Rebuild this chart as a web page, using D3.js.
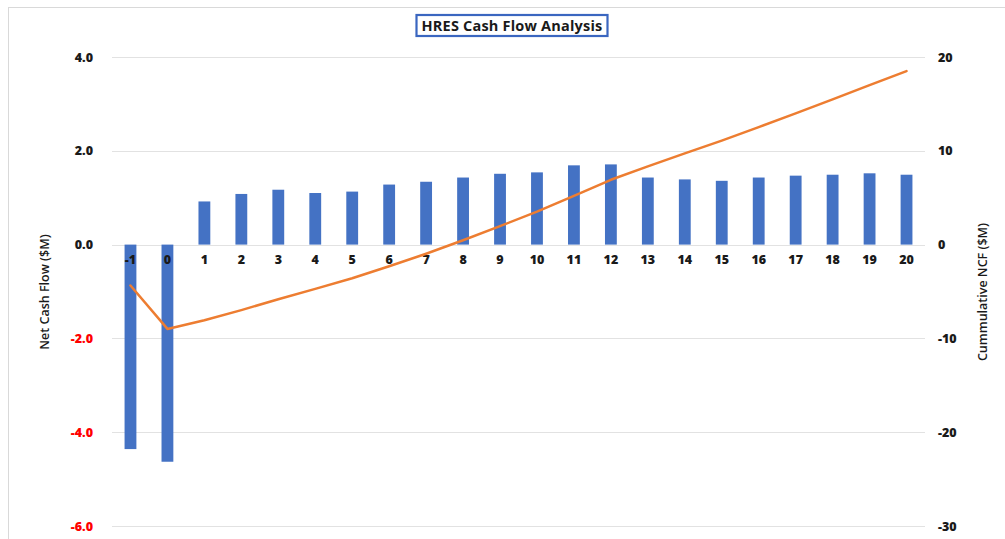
<!DOCTYPE html>
<html>
<head>
<meta charset="utf-8">
<script src="https://cdn.jsdelivr.net/npm/d3@7"></script>
<style>
  html, body { margin: 0; padding: 0; background: #ffffff; }
  svg { display: block; }
  text { font-family: "Open Sans", "Noto Sans", sans-serif; }
</style>
</head>
<body>
<svg id="chart" width="1005" height="539"></svg>
<script>
// Project years (-1 = construction, 0 = commissioning)
const years = ["-1", "0", "1", "2", "3", "4", "5", "6", "7", "8", "9", "10",
               "11", "12", "13", "14", "15", "16", "17", "18", "19", "20"];

// Annual net cash flow, $M
const netCashFlow = [-4.36, -4.63, 0.92, 1.08, 1.17, 1.10, 1.13, 1.28, 1.34, 1.43, 1.51,
                     1.54, 1.69, 1.71, 1.43, 1.39, 1.36, 1.43, 1.47, 1.49, 1.52, 1.49];

// Cumulative net cash flow, $M
const cumulativeNCF = [-4.36, -8.99, -8.07, -6.99, -5.82, -4.72, -3.59, -2.31, -0.97, 0.46, 1.97,
                       3.51, 5.20, 6.91, 8.34, 9.73, 11.09, 12.52, 13.99, 15.48, 17.00, 18.49];

// Axis ticks
const leftTicks = [4, 2, 0, -2, -4, -6];
const rightTicks = [20, 10, 0, -10, -20, -30];

const svg = d3.select("#chart");

// Outer chart frame
svg.append("rect")
  .attr("x", 8.5).attr("y", 7.5)
  .attr("width", 1100).attr("height", 700)
  .attr("fill", "none")
  .attr("stroke", "#d9d9d9")
  .attr("stroke-width", 1);

const plot = { left: 112, right: 925, top: 57, bottom: 526 };

const x = d3.scaleBand()
  .domain(years)
  .range([plot.left, plot.right])
  .paddingInner(0.68)
  .paddingOuter(0.34);

const yL = d3.scaleLinear().domain([-6, 4]).range([plot.bottom, plot.top]);
const yR = d3.scaleLinear().domain([-30, 20]).range([plot.bottom, plot.top]);

// Horizontal gridlines
svg.append("g")
  .selectAll("line")
  .data(leftTicks)
  .join("line")
  .attr("x1", plot.left).attr("x2", plot.right)
  .attr("y1", d => Math.round(yL(d)) + 0.5)
  .attr("y2", d => Math.round(yL(d)) + 0.5)
  .attr("stroke", "#e2e2e2")
  .attr("stroke-width", 1.2);

// Left axis (net cash flow), plain hyphen for negatives
const leftAxis = svg.append("g")
  .attr("transform", `translate(${plot.left - 19},0)`)
  .call(d3.axisLeft(yL).tickValues(leftTicks).tickFormat(d => d.toFixed(1)).tickSize(0).tickPadding(0));
leftAxis.select(".domain").remove();
leftAxis.selectAll("text")
  .attr("font-size", 12.5)
  .attr("font-weight", 800)
  .attr("fill", d => d < 0 ? "#ff0000" : "#1a1a1a");

// Right axis (cumulative)
const rightAxis = svg.append("g")
  .attr("transform", `translate(${plot.right + 13},0)`)
  .call(d3.axisRight(yR).tickValues(rightTicks).tickFormat(d => String(d)).tickSize(0).tickPadding(0));
rightAxis.select(".domain").remove();
rightAxis.selectAll("text")
  .attr("font-size", 12.5)
  .attr("font-weight", 800)
  .attr("fill", "#1a1a1a");

// Net cash flow bars
svg.append("g")
  .selectAll("rect")
  .data(years.map((yr, i) => ({ yr, v: netCashFlow[i] })))
  .join("rect")
  .attr("x", d => x(d.yr))
  .attr("width", x.bandwidth())
  .attr("y", d => yL(Math.max(0, d.v)))
  .attr("height", d => Math.abs(yL(d.v) - yL(0)))
  .attr("fill", "#4472c4");

// Category labels sit just under the zero line
const xAxis = svg.append("g")
  .attr("transform", `translate(0,${yL(0)})`)
  .call(d3.axisBottom(x).tickSize(0).tickPadding(11));
xAxis.select(".domain").remove();
xAxis.selectAll("text")
  .attr("font-size", 12.5)
  .attr("font-weight", 800)
  .attr("fill", "#1a1a1a");

// Cumulative NCF line
const line = d3.line()
  .x((d, i) => x(years[i]) + x.bandwidth() / 2)
  .y(d => yR(d));

svg.append("path")
  .datum(cumulativeNCF)
  .attr("d", line)
  .attr("fill", "none")
  .attr("stroke", "#ed7d31")
  .attr("stroke-width", 2.5)
  .attr("stroke-linejoin", "round")
  .attr("stroke-linecap", "round");

// Axis titles
const midY = 292;
svg.append("text")
  .attr("transform", `translate(49,${midY}) rotate(-90)`)
  .attr("text-anchor", "middle")
  .attr("font-size", 12.5)
  .attr("font-weight", 600)
  .attr("fill", "#1a1a1a")
  .text("Net Cash Flow ($M)");

svg.append("text")
  .attr("transform", `translate(987,${midY}) rotate(-90)`)
  .attr("text-anchor", "middle")
  .attr("font-size", 12.5)
  .attr("font-weight", 600)
  .attr("fill", "#1a1a1a")
  .text("Cummulative NCF ($M)");

// Boxed title
const titleG = svg.append("g");
const title = titleG.append("text")
  .attr("x", 512).attr("y", 30.5)
  .attr("text-anchor", "middle")
  .attr("font-size", 14.5)
  .attr("font-weight", 700)
  .attr("fill", "#1a1a1a")
  .attr("letter-spacing", 0.2)
  .text("HRES Cash Flow Analysis");
const bb = title.node().getBBox();
titleG.insert("rect", "text")
  .attr("x", bb.x - 5).attr("y", 15)
  .attr("width", bb.width + 10).attr("height", 21)
  .attr("fill", "#ffffff")
  .attr("stroke", "#3a66c0")
  .attr("stroke-width", 2.2);
</script>
</body>
</html>
